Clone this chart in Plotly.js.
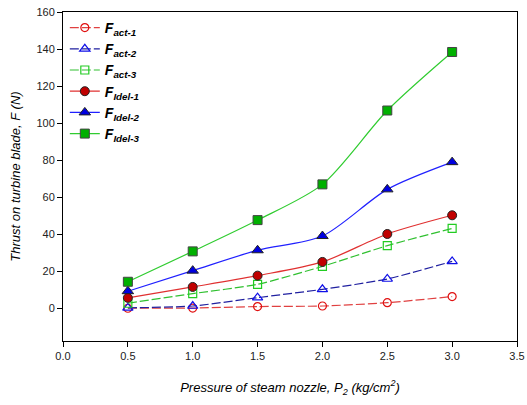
<!DOCTYPE html>
<html>
<head>
<meta charset="utf-8">
<script src="https://cdn.plot.ly/plotly-3.0.1.min.js"></script>
<style>html,body{margin:0;padding:0;background:#fff;}#chart{width:527px;height:405px;}</style>
</head>
<body>
<div id="chart"></div>
<script>
const pressure = [0.5, 1.0, 1.5, 2.0, 2.5, 3.0];
const fAct1 = [0.0, 0.1, 0.9, 1.2, 3.0, 6.3];
const fAct2 = [0.2, 1.2, 5.7, 10.2, 15.8, 25.3];
const fAct3 = [2.7, 7.9, 12.9, 22.6, 33.8, 43.1];
const fIdel1 = [5.6, 11.5, 17.6, 25.0, 40.1, 50.2];
const fIdel2 = [9.2, 20.3, 31.3, 39.0, 64.2, 78.9];
const fIdel3 = [14.3, 30.7, 47.6, 66.9, 106.8, 138.4];
const seriesNames = ['act-1', 'act-2', 'act-3', 'Idel-1', 'Idel-2', 'Idel-3'];
const xTicks = [0, 0.5, 1.0, 1.5, 2.0, 2.5, 3.0, 3.5];
const yTicks = [0, 20, 40, 60, 80, 100, 120, 140, 160];

function label(s) {
  return '<b><i>F</i></b><sub><b><i>' + s + '</i></b></sub>';
}

const red = '#e01010', blue = '#1010e8', green = '#22cc22';
const specs = [
  {y: fAct1, name: seriesNames[0], line: {color: '#e04040', dash: '9px,3px', width: 1.2, shape: 'spline', smoothing: 0.6},
   marker: {symbol: 'circle-open', size: 8, color: red, line: {width: 1.2}}},
  {y: fAct2, name: seriesNames[1], line: {color: '#2020a0', dash: '9px,3px', width: 1.2, shape: 'spline', smoothing: 0.6},
   marker: {symbol: 'triangle-up-open', size: 9, color: blue, line: {width: 1.2}}},
  {y: fAct3, name: seriesNames[2], line: {color: '#30c030', dash: '9px,3px', width: 1.2, shape: 'spline', smoothing: 0.6},
   marker: {symbol: 'square-open', size: 8, color: green, line: {width: 1.2}}},
  {y: fIdel1, name: seriesNames[3], line: {color: '#e03030', width: 1.2, shape: 'spline', smoothing: 0.8},
   marker: {symbol: 'circle', size: 9, color: '#c00000', line: {color: '#222', width: 1}}},
  {y: fIdel2, name: seriesNames[4], line: {color: '#2020ff', width: 1.2, shape: 'spline', smoothing: 0.8},
   marker: {symbol: 'triangle-up', size: 10, color: '#0000e0', line: {color: '#222', width: 1}}},
  {y: fIdel3, name: seriesNames[5], line: {color: '#30cc30', width: 1.2, shape: 'spline', smoothing: 0.8},
   marker: {symbol: 'square', size: 9, color: '#00b000', line: {color: '#444', width: 1}}}
];

const traces = specs.map(s => ({
  x: pressure, y: s.y, name: label(s.name), type: 'scatter', mode: 'lines+markers',
  line: s.line, marker: s.marker
}));

const layout = {
  width: 527, height: 405,
  margin: {l: 63, r: 10, t: 12, b: 64},
  paper_bgcolor: '#fff', plot_bgcolor: '#fff',
  font: {family: 'Liberation Sans, Arial, sans-serif', color: '#222', size: 11},
  showlegend: true,
  legend: {x: 0.004, y: 1.0, xanchor: 'left', yanchor: 'top', bgcolor: 'rgba(0,0,0,0)',
           font: {size: 14, color: '#000'}, tracegroupgap: 0},
  xaxis: {
    range: [0, 3.5], tickvals: xTicks, ticktext: xTicks.map(v => v.toFixed(1)),
    ticks: 'outside', ticklen: 5, tickcolor: '#000', showgrid: false, zeroline: false,
    showline: true, linecolor: '#000', linewidth: 1, mirror: true,
    tickfont: {size: 11, color: '#222'},
    title: {text: '<i>Pressure of steam nozzle, P<sub>2</sub> (kg/cm<sup>2</sup>)</i>', font: {size: 13, color: '#000'}, standoff: 21}
  },
  yaxis: {
    range: [-17.7, 160], tickvals: yTicks,
    ticks: 'outside', ticklen: 5, tickcolor: '#000', showgrid: false, zeroline: false,
    showline: true, linecolor: '#000', linewidth: 1, mirror: true,
    tickfont: {size: 11, color: '#222'},
    title: {text: '<i>Thrust on turbine blade, F (N)</i>', font: {size: 13, color: '#000'}, standoff: 12}
  }
};

Plotly.newPlot('chart', traces, layout, {displayModeBar: false, staticPlot: true});
</script>
</body>
</html>
